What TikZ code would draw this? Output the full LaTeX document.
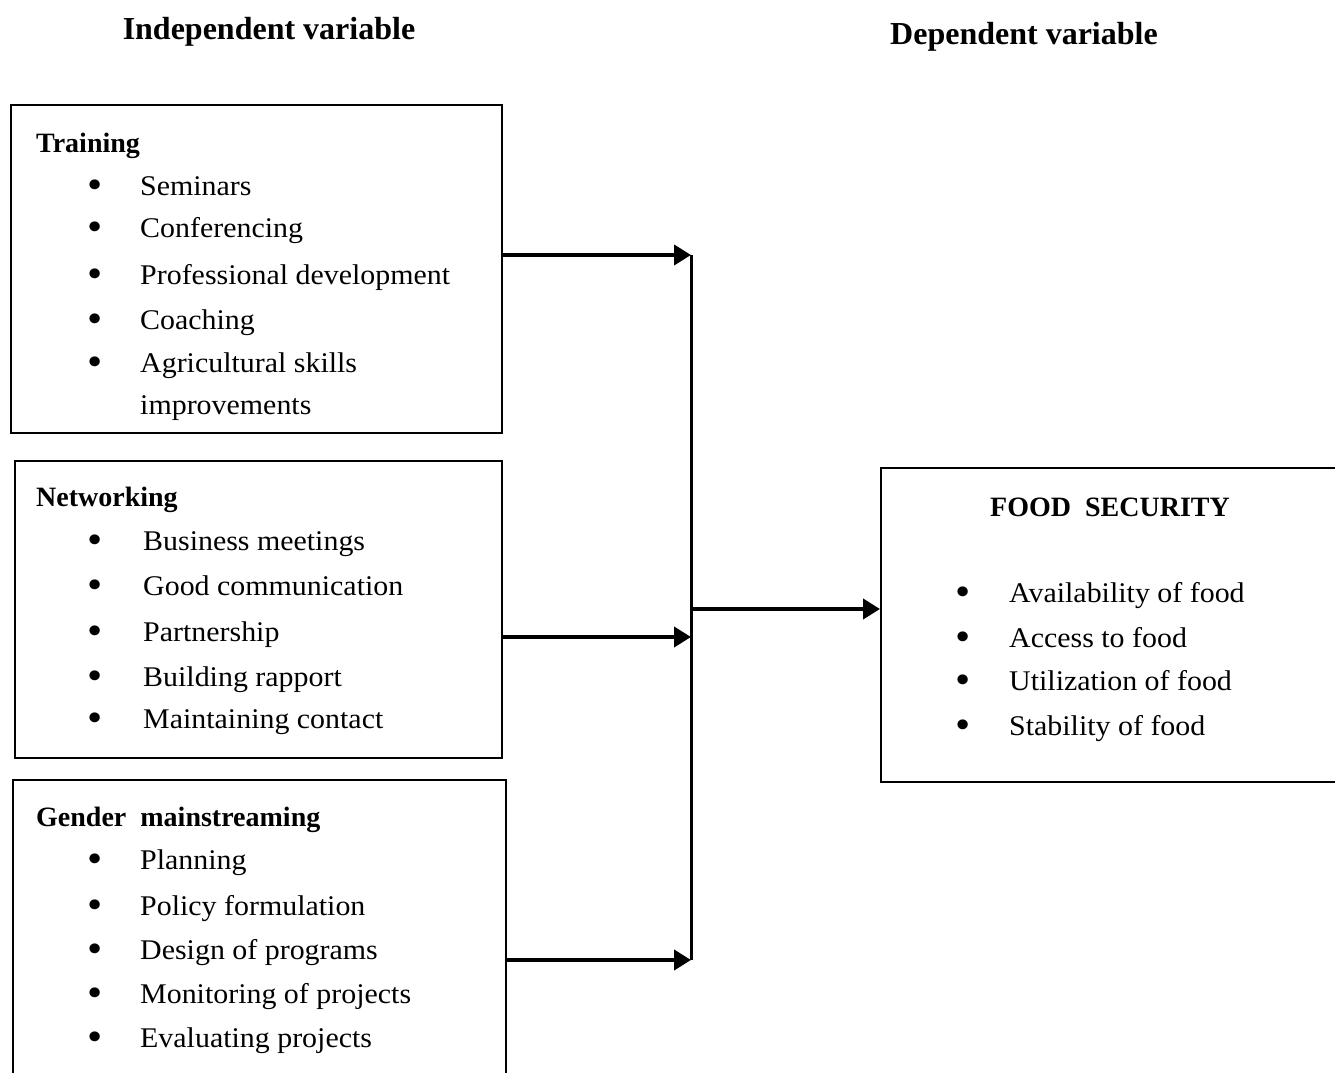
\documentclass[tikz,border=0pt]{standalone}
\usepackage{fontspec}
\setmainfont{Liberation Serif}
\newfontfamily\itemfont[FakeStretch=1.05]{Liberation Serif}
\usetikzlibrary{arrows.meta}
\newcommand\bul{\raisebox{-3pt}{\scalebox{1.45}{•}}}
\begin{document}
\begin{tikzpicture}[x=1pt,y=1pt,
  box/.style={draw,line width=2pt,rectangle,inner sep=0pt},
  title/.style={font=\fontsize{32}{36}\selectfont\bfseries,anchor=base,inner sep=0pt},
  head/.style={font=\fontsize{28}{32}\selectfont\bfseries,anchor=base west,inner sep=0pt},
  item/.style={font=\itemfont\fontsize{28.5}{32}\selectfont,anchor=base west,inner sep=0pt},
  arr/.style={line width=4pt,-{Triangle[length=17pt,width=20pt]}},
  vline/.style={line width=3pt}]
\clip (0,0) rectangle (1335,1072);
\fill[white] (0,0) rectangle (1335,1072);
% titles
\node[title] (ti) at (269,1032) {Independent variable};
\node[title] (td) at (1024,1027) {Dependent variable};
% boxes
\node[box,minimum width=491pt,minimum height=328pt] (b1) at (256.5,803) {};
\node[box,minimum width=487pt,minimum height=297pt] (b2) at (258.5,462.5) {};
\node[box,minimum width=493pt,minimum height=310pt] (b3) at (259.5,137) {};
\node[box,minimum width=464pt,minimum height=314pt] (fs) at (1113,447) {};
% training
\node[head] (h1) at (36,919) {Training};
\node[item] (i11) at (87,876) {\makebox[53pt][l]{\bul}Seminars};
\node[item] (i12) at (87,834) {\makebox[53pt][l]{\bul}Conferencing};
\node[item] (i13) at (87,787) {\makebox[53pt][l]{\bul}Professional development};
\node[item] (i14) at (87,742) {\makebox[53pt][l]{\bul}Coaching};
\node[item] (i15) at (87,699) {\makebox[53pt][l]{\bul}Agricultural skills};
\node[item] (i16) at (140,657) {improvements};
% networking
\node[head] (h2) at (36,565) {Networking};
\node[item] (i21) at (87,521) {\makebox[56pt][l]{\bul}Business meetings};
\node[item] (i22) at (87,477) {\makebox[56pt][l]{\bul}Good communication};
\node[item] (i23) at (87,431) {\makebox[56pt][l]{\bul}Partnership};
\node[item] (i24) at (87,386) {\makebox[56pt][l]{\bul}Building rapport};
\node[item] (i25) at (87,344) {\makebox[56pt][l]{\bul}Maintaining contact};
% gender
\node[head] (h3) at (36,246) {Gender\ \ mainstreaming};
\node[item] (i31) at (87,203) {\makebox[53pt][l]{\bul}Planning};
\node[item] (i32) at (87,157) {\makebox[53pt][l]{\bul}Policy formulation};
\node[item] (i33) at (87,113) {\makebox[53pt][l]{\bul}Design of programs};
\node[item] (i34) at (87,69) {\makebox[53pt][l]{\bul}Monitoring of projects};
\node[item] (i35) at (87,25) {\makebox[53pt][l]{\bul}Evaluating projects};
% food security
\node[head,anchor=base] (h4) at (1110,555) {FOOD\ \ SECURITY};
\node[item] (i41) at (955,469) {\makebox[54pt][l]{\bul}Availability of food};
\node[item] (i42) at (955,425) {\makebox[54pt][l]{\bul}Access to food};
\node[item] (i43) at (955,382) {\makebox[54pt][l]{\bul}Utilization of food};
\node[item] (i44) at (955,337) {\makebox[54pt][l]{\bul}Stability of food};
% junction line
\coordinate (j1) at (691,817);
\coordinate (j2) at (691,435);
\coordinate (jo) at (691,463);
\coordinate (j3) at (691,112);
\draw[vline] (j1) -- (j3);
\draw[arr] (b1.east |- j1) -- (j1);
\draw[arr] (b2.east |- j2) -- (j2);
\draw[arr] (b3.east |- j3) -- (j3);
\draw[arr] (jo) -- (fs.west |- jo);
\end{tikzpicture}
\end{document}
